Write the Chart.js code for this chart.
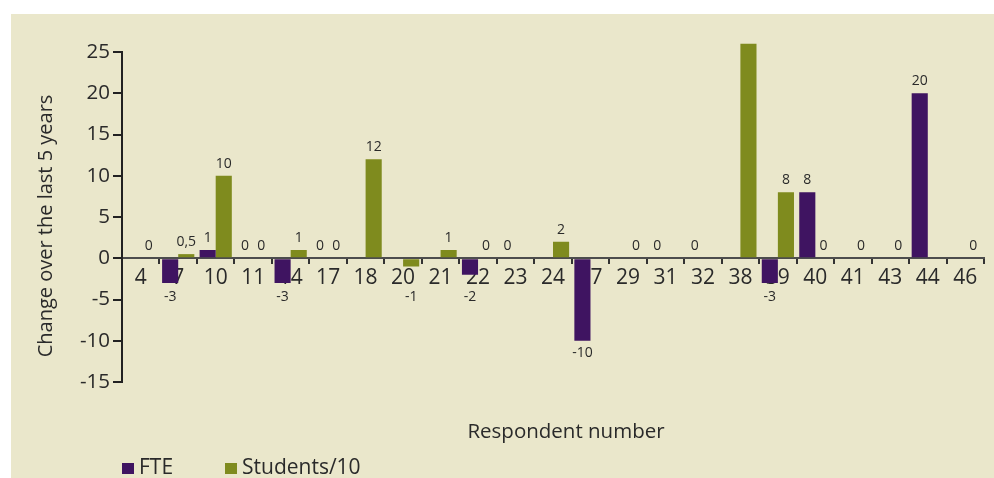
<!DOCTYPE html>
<html>
<head>
<meta charset="utf-8">
<script src="https://cdn.jsdelivr.net/npm/chart.js@4/dist/chart.umd.min.js"></script>
<style>
  html, body { margin: 0; padding: 0; background: #ffffff; }
  canvas { display: block; }
</style>
</head>
<body>
<canvas id="chart" width="994" height="478"></canvas>
<script>
// Respondents and their change over the last 5 years
const respondents = ['4', '7', '10', '11', '14', '17', '18', '20', '21', '22', '23', '24',
                     '27', '29', '31', '32', '38', '39', '40', '41', '43', '44', '46'];
const fteChange = [null, -3, 1, 0, -3, 0, null, null, null, -2, 0, null,
                   -10, null, 0, 0, null, -3, 8, null, null, 20, null];
const studentsChange = [0, 0.5, 10, 0, 1, 0, 12, -1, 1, 0, null, 2,
                        null, 0, null, null, 26, 8, 0, 0, 0, null, 0];
const yTickValues = [-15, -10, -5, 0, 5, 10, 15, 20, 25];
const seriesNames = ['FTE', 'Students/10'];
const yTitle = 'Change over the last 5 years';
const xTitle = 'Respondent number';

const FONT = '"Open Sans", "Noto Sans", sans-serif';
const INK = '#2a2a2a';
const PANEL = '#EAE7CB';
const FTE_COLOR = '#3F1461';
const STUDENT_COLOR = '#7F8B1E';

// Beige panel behind the chart (white margin on the top and left)
const panel = {
  id: 'panel',
  beforeDraw(chart) {
    const ctx = chart.ctx;
    ctx.save();
    ctx.fillStyle = PANEL;
    ctx.fillRect(11, 14, chart.width - 11, chart.height - 14);
    ctx.restore();
  }
};

// Value labels above positive bars and below negative ones
const valueLabels = {
  id: 'valueLabels',
  afterDatasetsDraw(chart) {
    const { ctx, chartArea } = chart;
    const zeroY = chart.scales.y.getPixelForValue(0);
    ctx.save();
    ctx.font = '14px ' + FONT;
    ctx.fillStyle = INK;
    ctx.textAlign = 'center';
    ctx.textBaseline = 'alphabetic';
    chart.data.datasets.forEach((ds, i) => {
      const meta = chart.getDatasetMeta(i);
      meta.data.forEach((bar, j) => {
        const v = ds.data[j];
        if (v === null || v === undefined) return;
        const txt = String(v).replace('.', ',');
        const y = v >= 0 ? bar.y - 8 : Math.max(bar.y + 16, zeroY + 43);
        if (y - 12 < chartArea.top) return;
        ctx.fillText(txt, bar.x, y);
      });
    });
    ctx.restore();
  }
};

// Axis titles and the legend row
const frameText = {
  id: 'frameText',
  afterDraw(chart) {
    const ctx = chart.ctx;
    const area = chart.chartArea;
    ctx.save();
    ctx.fillStyle = INK;
    ctx.font = '20px ' + FONT;
    ctx.textAlign = 'center';
    ctx.textBaseline = 'middle';
    ctx.save();
    ctx.translate(46, 226);
    ctx.rotate(-Math.PI / 2);
    ctx.fillText(yTitle, 0, 0);
    ctx.restore();
    ctx.font = '20.5px ' + FONT;
    ctx.fillText(xTitle, 566, 432);

    ctx.font = '21px ' + FONT;
    ctx.textAlign = 'left';
    chart.data.datasets.forEach((ds, i) => {
      const x = area.left + i * 103;
      ctx.fillStyle = ds.backgroundColor;
      ctx.fillRect(x, 463, 12, 11);
      ctx.fillStyle = INK;
      ctx.fillText(ds.label, x + 17, 468);
    });
    ctx.restore();
  }
};

new Chart(document.getElementById('chart'), {
  type: 'bar',
  data: {
    labels: respondents,
    datasets: [
      { label: seriesNames[0], data: fteChange, backgroundColor: FTE_COLOR,
        categoryPercentage: 0.86, barPercentage: 1 },
      { label: seriesNames[1], data: studentsChange, backgroundColor: STUDENT_COLOR,
        categoryPercentage: 0.86, barPercentage: 1, clip: false }
    ]
  },
  options: {
    responsive: false,
    animation: false,
    devicePixelRatio: 1,
    layout: { padding: { left: 0, right: 10, top: 52, bottom: 96 } },
    plugins: {
      legend: { display: false },
      tooltip: { enabled: false }
    },
    scales: {
      x: {
        position: { y: 0 },
        offset: true,
        grid: { offset: true, drawOnChartArea: false, tickLength: 5, color: '#333333', lineWidth: 2 },
        border: { display: true, color: '#4d4d4d', width: 2 },
        ticks: { font: { family: FONT, size: 21 }, color: INK, padding: 2,
                 maxRotation: 0, autoSkip: false }
      },
      y: {
        min: yTickValues[0],
        max: yTickValues[yTickValues.length - 1],
        afterBuildTicks(scale) { scale.ticks = yTickValues.map(v => ({ value: v })); },
        grid: { drawOnChartArea: false, tickLength: 9, color: '#222222', lineWidth: 2 },
        border: { color: '#222222', width: 2 },
        ticks: { font: { family: FONT, size: 20.5 }, color: INK, padding: 3 },
        afterFit(scale) { scale.width = 122; }
      }
    }
  },
  plugins: [panel, valueLabels, frameText]
});
</script>
</body>
</html>
